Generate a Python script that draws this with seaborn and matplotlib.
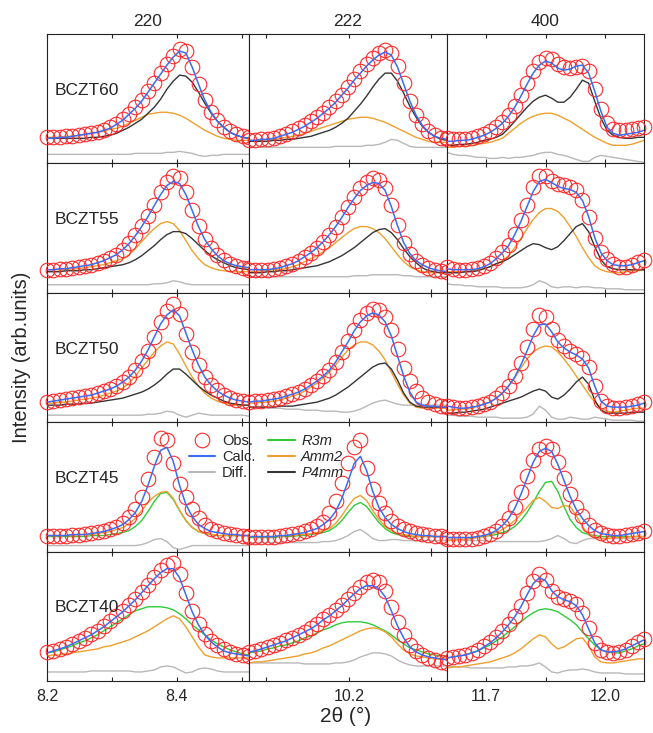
import numpy as np
import pandas as pd
import matplotlib
matplotlib.use("Agg")
import matplotlib.pyplot as plt
import seaborn as sns
from matplotlib.lines import Line2D
from matplotlib.ticker import FixedLocator, FormatStrFormatter

# ---------------- data (intensity, arb. units) ----------------
SAMPLES = ["BCZT60", "BCZT55", "BCZT50", "BCZT45", "BCZT40"]
REFLECTIONS = ["220", "222", "400"]
RANGE_220 = [8.200, 8.511]
RANGE_222 = [10.079, 10.319]
RANGE_400 = [11.602, 12.098]
MAJOR_220 = [8.2, 8.4]
MINOR_220 = [8.3, 8.5]
MAJOR_222 = [10.2]
MINOR_222 = [10.1, 10.3]
MAJOR_400 = [11.7, 12.0]
MINOR_400 = [11.85]
N_POINTS = 33

# BCZT60
OBS_60_220 = [26,26,26,27,27,28,29,30,31,33,36,39,44,49,56,63,72,80,90,99,107,114,112,96,79,63,51,43,36,32,29,27,26]
CALC_60_220 = [25,25,26,26,27,28,29,30,31,33,35,39,43,49,55,62,71,80,89,98,106,112,110,96,79,63,51,42,36,31,28,26,25]
AMM2_60_220 = [26,26,26,27,27,28,29,30,31,32,34,35,37,40,43,46,49,50,51,51,50,48,45,41,37,33,30,27,25,24,23,23,23]
P4MM_60_220 = [25,25,25,25,25,25,25,26,26,27,28,30,33,36,40,44,50,56,64,74,82,88,87,81,71,60,50,42,36,31,28,26,25]
DIFF_60_220 = [9,9,9,9,9,9,9,9,9,9,9,9,9,9,10,10,10,10,10,11,11,12,11,10,8,7,8,8,9,9,9,9,9]

OBS_60_222 = [23,23,24,24,25,27,29,32,35,38,42,46,50,56,62,68,76,84,92,99,105,110,113,110,97,80,62,48,39,32,28,25,24]
CALC_60_222 = [23,23,24,24,25,27,29,31,34,37,41,45,50,55,61,68,75,83,90,97,103,108,111,108,96,79,62,48,38,31,27,25,24]
AMM2_60_222 = [23,23,23,24,24,25,26,27,28,30,32,34,36,38,40,42,44,45,46,46,45,43,41,38,35,32,29,26,24,22,21,21,21]
P4MM_60_222 = [22,22,22,22,23,23,24,24,25,26,27,29,31,33,36,40,45,52,59,67,76,84,90,90,82,70,57,46,37,31,27,24,23]
DIFF_60_222 = [16,16,16,16,16,16,16,16,16,16,16,16,16,16,17,17,17,17,17,18,18,19,21,24,23,20,17,16,16,16,16,16,16]

OBS_60_400 = [25,24,24,24,25,27,29,32,36,41,48,57,68,80,92,101,105,104,99,96,95,96,97,92,74,54,40,34,33,33,34,35,36]
CALC_60_400 = [22,22,23,23,24,26,28,31,35,40,47,56,67,79,90,98,102,100,95,93,94,97,98,90,72,52,36,30,28,29,30,31,33]
AMM2_60_400 = [16,16,17,17,18,19,20,21,23,25,30,35,40,44,47,49,50,50,48,45,42,38,34,30,26,23,20,18,18,18,19,21,23]
P4MM_60_400 = [18,18,19,19,20,21,23,24,26,29,35,42,49,56,62,66,68,65,61,61,66,74,83,80,62,45,33,28,26,25,25,26,26]
DIFF_60_400 = [11,9,8,8,7,6,6,5,5,6,5,6,6,7,8,10,11,11,9,8,6,4,2,2,6,8,7,6,5,4,3,2,1]

# BCZT55
OBS_55_220 = [23,23,24,24,25,26,27,28,30,32,35,38,43,50,58,67,77,88,100,110,116,114,100,83,67,54,45,38,33,29,27,25,25]
CALC_55_220 = [23,23,24,24,25,26,27,28,30,32,35,38,43,49,57,66,76,87,98,107,111,109,98,82,66,53,44,37,32,29,27,26,25]
AMM2_55_220 = [23,23,23,23,24,24,25,26,27,28,30,32,34,38,44,51,58,64,69,71,69,62,52,42,34,28,25,23,22,21,21,21,21]
P4MM_55_220 = [21,21,21,22,22,22,23,23,24,25,26,27,28,30,33,37,42,47,53,58,61,61,59,54,48,42,37,33,30,27,25,24,23]
DIFF_55_220 = [8,8,8,8,8,8,8,8,8,8,8,8,8,8,8,8,8,9,9,10,12,11,9,8,8,8,8,8,8,8,8,8,8]

OBS_55_222 = [23,23,23,23,24,25,27,29,32,36,40,45,51,58,66,76,86,96,104,110,114,112,104,88,68,50,39,32,28,25,23,22,21]
CALC_55_222 = [23,23,23,23,24,25,27,29,32,36,40,45,51,58,66,75,85,94,102,107,110,109,102,86,67,50,39,32,28,25,23,22,21]
AMM2_55_222 = [21,21,22,22,23,23,24,26,28,31,34,37,41,45,50,55,60,64,66,66,64,60,54,46,38,31,26,23,21,20,20,20,20]
P4MM_55_222 = [20,20,20,21,21,22,22,23,24,25,26,27,29,31,34,37,41,45,50,55,60,63,64,60,53,44,36,30,25,22,21,20,20]
DIFF_55_222 = [16,16,16,16,16,16,16,16,16,16,16,16,16,16,16,16,16,17,17,17,18,18,18,18,18,17,17,16,16,16,16,16,16]

OBS_55_400 = [26,24,23,23,24,25,27,30,35,41,48,59,73,88,105,116,116,111,108,107,105,102,93,76,55,41,34,29,26,26,28,31,33]
CALC_55_400 = [24,23,23,23,23,24,26,29,34,40,47,58,71,86,101,111,113,110,106,104,103,100,92,76,55,40,32,28,27,27,28,30,32]
AMM2_55_400 = [21,21,21,21,22,23,24,26,29,32,37,45,54,64,73,80,84,84,81,75,66,56,45,35,27,23,21,20,20,21,22,22,23]
P4MM_55_400 = [20,20,20,21,21,22,24,26,29,31,34,38,42,46,49,48,45,43,46,52,59,66,69,61,46,33,26,24,23,23,23,23,23]
DIFF_55_400 = [9,8,8,7,7,6,6,6,6,5,5,5,5,6,8,12,10,6,5,6,6,5,6,6,5,5,4,4,4,3,3,3,3]

# BCZT50
OBS_50_220 = [20,21,22,23,24,25,26,27,29,31,33,36,40,45,52,61,71,85,100,111,118,108,88,70,57,45,37,32,27,24,22,21,20]
CALC_50_220 = [20,21,22,23,24,25,26,27,29,31,33,36,40,45,52,61,72,85,98,107,112,106,89,72,57,45,37,31,27,24,22,21,20]
AMM2_50_220 = [19,19,20,20,21,22,23,24,25,27,29,31,34,39,46,54,62,70,76,80,78,68,56,45,36,29,24,21,19,18,17,17,17]
P4MM_50_220 = [17,17,17,18,18,18,19,19,20,21,22,23,24,26,28,30,33,37,42,48,53,53,48,42,36,31,27,24,21,19,18,17,17]
DIFF_50_220 = [7,7,7,7,7,7,7,7,7,7,7,7,7,7,7,7,8,8,9,11,10,7,5,7,9,8,7,7,7,7,7,7,6]

OBS_50_222 = [20,21,21,22,23,24,26,28,30,33,37,41,46,52,60,70,81,92,102,109,113,112,105,92,73,54,41,31,24,20,18,16,15]
CALC_50_222 = [20,21,21,22,23,24,26,28,30,33,37,41,46,52,60,70,80,91,100,106,109,107,100,86,66,46,30,20,17,16,16,15,15]
AMM2_50_222 = [19,19,20,20,21,22,24,26,28,31,35,39,44,50,57,65,72,77,80,80,77,71,62,50,38,27,19,15,14,14,14,14,14]
P4MM_50_222 = [15,15,15,15,15,16,16,16,17,18,19,20,22,24,27,31,35,40,45,50,55,58,59,53,42,29,20,16,15,15,15,15,15]
DIFF_50_222 = [15,15,15,14,14,14,13,13,13,12,12,12,11,11,11,10,10,11,13,16,19,21,22,20,18,17,17,17,17,17,17,17,17]

OBS_50_400 = [16,15,14,14,15,16,18,20,24,29,36,46,59,75,93,107,105,93,82,76,71,68,64,55,36,21,16,14,14,15,16,18,20]
CALC_50_400 = [16,15,14,14,15,16,18,20,24,29,36,45,57,71,86,97,98,90,80,74,70,67,63,54,36,21,16,15,15,15,16,17,19]
AMM2_50_400 = [12,12,13,13,14,16,18,20,24,29,36,44,54,63,70,74,76,75,70,63,55,46,37,28,20,14,11,10,11,12,13,14,14]
P4MM_50_400 = [9,9,10,10,11,12,13,15,17,19,21,23,25,28,31,33,31,25,23,27,33,40,45,38,22,12,9,9,9,9,10,10,10]
DIFF_50_400 = [7,7,6,6,6,5,5,5,5,4,4,4,4,5,8,16,12,5,3,3,5,4,3,3,5,4,3,2,2,2,2,1,1]

# BCZT45
OBS_45_220 = [16,16,16,16,17,17,18,19,20,21,23,25,29,34,42,54,72,94,113,111,88,67,54,42,33,27,23,21,19,18,17,16,16]
CALC_45_220 = [16,16,16,16,17,17,17,18,19,20,22,24,27,32,39,50,66,85,101,104,90,66,47,35,27,23,20,19,18,17,17,16,16]
R3M_45_220 = [15,15,15,15,15,15,15,16,16,16,17,18,19,21,25,31,40,50,58,59,52,41,31,24,20,18,17,16,16,16,16,16,16]
AMM2_45_220 = [16,16,16,16,16,17,17,17,18,19,20,22,24,28,33,41,49,55,59,60,53,41,31,24,20,18,17,16,16,16,16,16,16]
DIFF_45_220 = [6,6,6,6,6,6,6,6,6,6,6,6,6,6,6,7,9,12,13,10,4,2,4,6,6,6,6,6,6,6,6,6,6]

OBS_45_222 = [15,15,15,15,15,16,17,18,19,21,23,26,30,38,50,68,88,104,111,83,62,48,38,31,26,23,21,19,18,17,16,16,15]
CALC_45_222 = [15,15,15,15,15,16,16,17,18,19,21,23,27,32,40,53,70,88,95,81,60,44,34,27,23,20,18,17,16,16,15,15,15]
R3M_45_222 = [14,14,14,14,14,15,15,15,16,16,17,18,19,21,25,31,39,46,49,45,37,29,23,19,17,16,15,15,15,15,15,15,15]
AMM2_45_222 = [15,15,15,15,15,15,16,16,17,17,18,19,21,23,28,36,45,53,56,51,41,32,25,21,18,17,16,15,15,15,15,15,15]
DIFF_45_222 = [9,9,9,9,9,9,9,9,9,9,9,9,10,10,11,13,16,20,22,18,13,11,11,12,12,11,11,11,11,11,11,11,11]

OBS_45_400 = [13,13,13,13,13,14,16,18,21,26,33,44,59,75,91,102,105,102,89,73,57,44,35,27,22,19,17,16,16,17,18,19,21]
CALC_45_400 = [14,14,14,14,14,15,16,18,21,26,33,43,57,73,89,100,103,100,87,71,55,42,33,26,21,18,17,16,16,17,18,19,20]
R3M_45_400 = [14,14,14,14,14,15,15,16,17,19,21,25,31,39,49,60,69,70,60,45,32,24,19,17,16,15,15,15,15,15,15,15,15]
AMM2_45_400 = [11,11,12,12,13,14,15,17,19,22,26,31,37,44,51,54,50,44,43,46,45,36,25,17,14,13,13,14,14,14,15,15,15]
DIFF_45_400 = [12,12,12,11,11,11,11,10,10,10,10,10,10,10,10,10,11,13,16,13,9,8,11,13,13,13,13,13,13,13,13,13,13]

# BCZT40
OBS_40_220 = [29,30,32,34,37,40,43,47,50,55,60,65,70,76,82,89,96,104,111,116,118,107,88,70,57,47,40,36,32,29,27,26,25]
CALC_40_220 = [28,30,32,34,37,40,43,46,50,54,59,64,69,75,81,88,95,102,108,112,112,103,86,69,56,46,39,34,30,28,27,26,25]
R3M_40_220 = [28,29,31,33,35,38,40,43,46,50,54,58,62,66,70,72,74,74,74,73,71,67,62,56,51,46,41,37,34,31,29,27,26]
AMM2_40_220 = [25,26,26,27,28,29,30,31,32,34,35,37,39,41,44,47,50,54,58,62,65,62,54,44,34,26,24,23,23,23,23,23,23]
DIFF_40_220 = [9,9,9,9,9,9,9,10,10,10,10,10,10,10,9,9,10,11,14,15,14,11,8,9,12,13,12,10,9,9,9,9,9]

OBS_40_222 = [29,30,32,34,36,38,41,43,46,49,53,57,62,66,71,76,82,88,94,99,101,99,90,74,59,46,36,30,26,23,21,19,18]
CALC_40_222 = [29,30,32,34,36,38,40,43,46,49,52,56,61,65,70,75,81,87,92,95,95,92,84,70,55,43,34,29,26,24,23,22,21]
R3M_40_222 = [28,29,30,32,33,35,36,38,40,43,45,48,51,53,56,58,59,59,59,58,56,53,50,46,41,37,33,31,29,27,26,25,25]
AMM2_40_222 = [18,19,19,20,21,22,23,24,25,27,28,30,33,35,38,41,44,47,50,52,53,52,49,44,37,31,27,25,24,23,22,22,22]
DIFF_40_222 = [18,18,18,18,18,18,18,18,18,17,17,17,17,17,18,18,19,21,24,26,28,28,27,25,21,18,16,15,15,15,15,15,15]

OBS_40_400 = [23,24,25,26,28,31,35,39,44,50,57,65,75,88,100,107,101,90,84,82,80,77,68,53,38,31,29,28,29,31,35,39,42]
CALC_40_400 = [23,24,25,26,28,30,34,38,43,49,56,64,74,86,97,103,100,90,84,81,79,75,66,52,38,31,29,29,30,32,35,38,41]
R3M_40_400 = [23,24,25,26,28,30,33,36,40,44,49,54,59,64,68,71,72,71,69,65,61,56,49,42,36,31,29,28,28,30,32,35,37]
AMM2_40_400 = [13,14,14,15,16,17,18,19,21,23,25,28,32,37,42,46,44,37,32,34,38,42,43,35,24,19,18,18,19,20,21,22,22]
DIFF_40_400 = [15,14,14,14,13,13,13,13,13,13,14,14,15,15,16,18,14,9,8,10,11,11,12,11,9,8,8,8,8,7,7,7,7]

# ---------------- assemble tidy table ----------------
RANGES = {"220": RANGE_220, "222": RANGE_222, "400": RANGE_400}
TICKS = {"220": (MAJOR_220, MINOR_220), "222": (MAJOR_222, MINOR_222), "400": (MAJOR_400, MINOR_400)}

PANEL_SERIES = {
    ("BCZT60", "220"): {"Obs.": OBS_60_220, "Calc.": CALC_60_220, "Diff.": DIFF_60_220, "Amm2": AMM2_60_220, "P4mm": P4MM_60_220},
    ("BCZT60", "222"): {"Obs.": OBS_60_222, "Calc.": CALC_60_222, "Diff.": DIFF_60_222, "Amm2": AMM2_60_222, "P4mm": P4MM_60_222},
    ("BCZT60", "400"): {"Obs.": OBS_60_400, "Calc.": CALC_60_400, "Diff.": DIFF_60_400, "Amm2": AMM2_60_400, "P4mm": P4MM_60_400},
    ("BCZT55", "220"): {"Obs.": OBS_55_220, "Calc.": CALC_55_220, "Diff.": DIFF_55_220, "Amm2": AMM2_55_220, "P4mm": P4MM_55_220},
    ("BCZT55", "222"): {"Obs.": OBS_55_222, "Calc.": CALC_55_222, "Diff.": DIFF_55_222, "Amm2": AMM2_55_222, "P4mm": P4MM_55_222},
    ("BCZT55", "400"): {"Obs.": OBS_55_400, "Calc.": CALC_55_400, "Diff.": DIFF_55_400, "Amm2": AMM2_55_400, "P4mm": P4MM_55_400},
    ("BCZT50", "220"): {"Obs.": OBS_50_220, "Calc.": CALC_50_220, "Diff.": DIFF_50_220, "Amm2": AMM2_50_220, "P4mm": P4MM_50_220},
    ("BCZT50", "222"): {"Obs.": OBS_50_222, "Calc.": CALC_50_222, "Diff.": DIFF_50_222, "Amm2": AMM2_50_222, "P4mm": P4MM_50_222},
    ("BCZT50", "400"): {"Obs.": OBS_50_400, "Calc.": CALC_50_400, "Diff.": DIFF_50_400, "Amm2": AMM2_50_400, "P4mm": P4MM_50_400},
    ("BCZT45", "220"): {"Obs.": OBS_45_220, "Calc.": CALC_45_220, "Diff.": DIFF_45_220, "R3m": R3M_45_220, "Amm2": AMM2_45_220},
    ("BCZT45", "222"): {"Obs.": OBS_45_222, "Calc.": CALC_45_222, "Diff.": DIFF_45_222, "R3m": R3M_45_222, "Amm2": AMM2_45_222},
    ("BCZT45", "400"): {"Obs.": OBS_45_400, "Calc.": CALC_45_400, "Diff.": DIFF_45_400, "R3m": R3M_45_400, "Amm2": AMM2_45_400},
    ("BCZT40", "220"): {"Obs.": OBS_40_220, "Calc.": CALC_40_220, "Diff.": DIFF_40_220, "R3m": R3M_40_220, "Amm2": AMM2_40_220},
    ("BCZT40", "222"): {"Obs.": OBS_40_222, "Calc.": CALC_40_222, "Diff.": DIFF_40_222, "R3m": R3M_40_222, "Amm2": AMM2_40_222},
    ("BCZT40", "400"): {"Obs.": OBS_40_400, "Calc.": CALC_40_400, "Diff.": DIFF_40_400, "R3m": R3M_40_400, "Amm2": AMM2_40_400},
}

rows = []
for (sample, refl), series in PANEL_SERIES.items():
    lo, hi = RANGES[refl]
    tt = np.linspace(lo, hi, N_POINTS)
    for name, vals in series.items():
        for x, v in zip(tt, vals):
            rows.append((sample, refl, name, x, v))
df = pd.DataFrame(rows, columns=["sample", "refl", "series", "twotheta", "intensity"])

# ---------------- styling ----------------
sns.set_style("white")
plt.rcParams["font.family"] = ["Liberation Sans", "DejaVu Sans"]

COLORS = {"Obs.": "#ff2a2a", "Calc.": "#3b6cf2", "Diff.": "#b8b8b8",
          "R3m": "#2fcc3a", "Amm2": "#eea02e", "P4mm": "#353535"}
DRAW_ORDER = ["Diff.", "R3m", "Amm2", "P4mm", "Obs.", "Calc."]

fig = plt.figure(figsize=(6.53, 7.33), dpi=100)
gs = fig.add_gridspec(5, 3, left=47/653, right=644/653, top=1-34/733, bottom=1-681/733,
                      wspace=0, hspace=0, width_ratios=[202, 198, 197])

for r, sample in enumerate(SAMPLES):
    for c, refl in enumerate(REFLECTIONS):
        ax = fig.add_subplot(gs[r, c])
        sub = df[(df["sample"] == sample) & (df["refl"] == refl)]
        for name in DRAW_ORDER:
            s = sub[sub["series"] == name]
            if s.empty:
                continue
            if name == "Obs.":
                sns.lineplot(data=s, x="twotheta", y="intensity", ax=ax, estimator=None,
                             linestyle="none", marker="o", markersize=10.5,
                             markerfacecolor="none", markeredgecolor=COLORS[name],
                             markeredgewidth=0.8, clip_on=False, zorder=3)
            else:
                sns.lineplot(data=s, x="twotheta", y="intensity", ax=ax, estimator=None,
                             color=COLORS[name], linewidth=1.0 if name != "Calc." else 1.1,
                             zorder=4 if name == "Calc." else 2)
        lo, hi = RANGES[refl]
        ax.set_xlim(lo, hi)
        ax.set_ylim(0, 129)
        ax.set_xlabel("")
        ax.set_ylabel("")
        ax.set_yticks([])
        major, minor = TICKS[refl]
        ax.xaxis.set_major_locator(FixedLocator(major))
        ax.xaxis.set_minor_locator(FixedLocator(minor))
        ax.xaxis.set_major_formatter(FormatStrFormatter("%.1f"))
        ax.tick_params(axis="x", which="both", direction="in", top=True, bottom=True,
                       length=3.2, width=0.8, color="#222222", labelsize=11.5, pad=6,
                       labelbottom=(r == len(SAMPLES) - 1))
        for sp in ax.spines.values():
            sp.set_linewidth(0.8)
            sp.set_color("#222222")
        if r == 0:
            ax.set_title(refl, fontsize=12.5, pad=6)
        if c == 0:
            ax.text(0.04, 0.565, sample, transform=ax.transAxes, fontsize=12.5,
                    ha="left", va="center")

handles = [
    Line2D([], [], linestyle="none", marker="o", markersize=10.5, markerfacecolor="none",
           markeredgecolor=COLORS["Obs."], markeredgewidth=0.8),
    Line2D([], [], color=COLORS["Calc."], linewidth=1.5),
    Line2D([], [], color=COLORS["Diff."], linewidth=1.5),
    Line2D([], [], color=COLORS["R3m"], linewidth=1.5),
    Line2D([], [], color=COLORS["Amm2"], linewidth=1.5),
    Line2D([], [], color=COLORS["P4mm"], linewidth=1.5),
]
labels = ["Obs.", "Calc.", "Diff.", "R3m", "Amm2", "P4mm"]
leg = fig.legend(handles, labels, ncol=2, loc="upper left", bbox_to_anchor=(189/653, 1-434/733),
                 frameon=False, fontsize=10.5, handlelength=1.8, handletextpad=0.45,
                 columnspacing=0.9, labelspacing=0.15, borderpad=0, borderaxespad=0)
for t in leg.get_texts()[3:]:
    t.set_fontstyle("italic")

fig.text(22/653, 1-357/733, "Intensity (arb.units)", rotation=90, ha="center", va="center",
         fontsize=14.5)
fig.text(346/653, 1-716/733, "2θ (°)", ha="center", va="center", fontsize=15)

fig.savefig("out.png", dpi=100)
